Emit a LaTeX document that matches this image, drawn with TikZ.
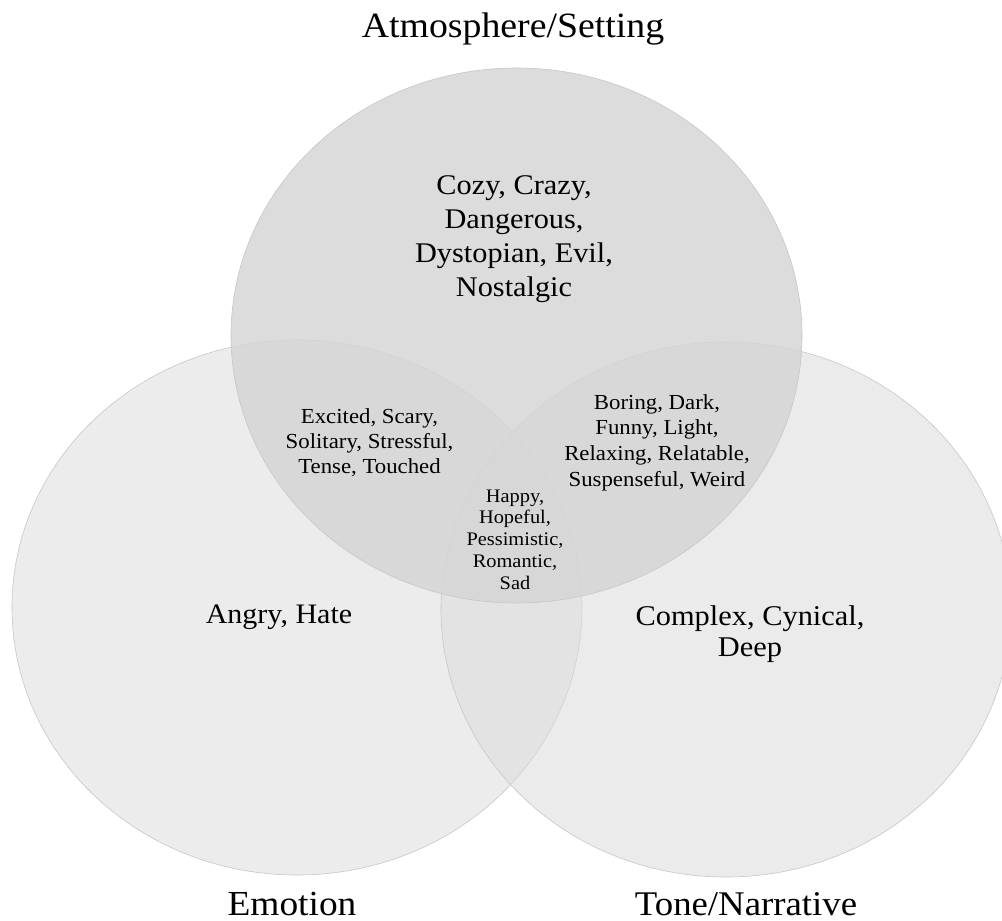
\documentclass[tikz,border=0pt]{standalone}
\usepackage{fontspec}
\setmainfont{Liberation Serif}
\usepackage{graphicx}
\newcommand{\vsq}[1]{\scalebox{1}[0.94]{#1}}
\newcommand{\fsz}[2]{\fontsize{#1}{#2}\selectfont}
\definecolor{topfill}{gray}{0.835}
\definecolor{leftfill}{gray}{0.927}
\definecolor{rightfill}{gray}{0.86}
\definecolor{rimgray}{gray}{0.78}
\begin{document}
\begin{tikzpicture}[x=0.5pt,y=-0.5pt,
  setshape/.style={draw=rimgray, line width=0.3pt},
  leftset/.style={setshape, fill=leftfill},
  rightset/.style={setshape, fill=rightfill, fill opacity=0.53},
  topset/.style={setshape, fill=topfill, fill opacity=0.83},
  lbl/.style={inner sep=0pt, anchor=base, align=center, text=black}]
\useasboundingbox (0,0) rectangle (1002,921);
\clip (0,0) rectangle (1002,921);
\fill[white] (0,0) rectangle (1002,921);
% sets
\path[leftset] (297,607.5) ellipse [x radius=142.5pt, y radius=133.75pt];
\path[rightset] (726,609.5) ellipse [x radius=142.5pt, y radius=133.75pt];
\path[topset] (516.5,335.5) ellipse [x radius=142.75pt, y radius=133.75pt];
% titles
\node[lbl] (atm) at (513,38) {\vsq{\fsz{18.9}{22}Atmosphere/Setting}};
\node[lbl] (emo) at (292,915) {\vsq{\fsz{18.7}{22}Emotion}};
\node[lbl] (ton) at (746,915) {\vsq{\fsz{18.4}{22}Tone/Narrative}};
% regions
\node[lbl] (topr) at (514,194) {\vsq{\fsz{15.15}{18.1}\begin{tabular}[t]{@{}c@{}}Cozy, Crazy,\\Dangerous,\\Dystopian, Evil,\\Nostalgic\end{tabular}}};
\node[lbl] (exr) at (369.5,423) {\vsq{\fsz{11.4}{13.4}\begin{tabular}[t]{@{}c@{}}Excited, Scary,\\Solitary, Stressful,\\Tense, Touched\end{tabular}}};
\node[lbl] (bor) at (657,409) {\vsq{\fsz{11.4}{13.8}\begin{tabular}[t]{@{}c@{}}Boring, Dark,\\Funny, Light,\\Relaxing, Relatable,\\Suspenseful, Weird\end{tabular}}};
\node[lbl] (hap) at (515,502) {\vsq{\fsz{10.2}{11.6}\begin{tabular}[t]{@{}c@{}}Happy,\\Hopeful,\\Pessimistic,\\Romantic,\\Sad\end{tabular}}};
\node[lbl] (ang) at (279,623) {\vsq{\fsz{15}{17}Angry, Hate}};
\node[lbl] (com) at (750,625) {\vsq{\fsz{15.2}{17}\begin{tabular}[t]{@{}c@{}}Complex, Cynical,\\Deep\end{tabular}}};
\end{tikzpicture}
\end{document}
